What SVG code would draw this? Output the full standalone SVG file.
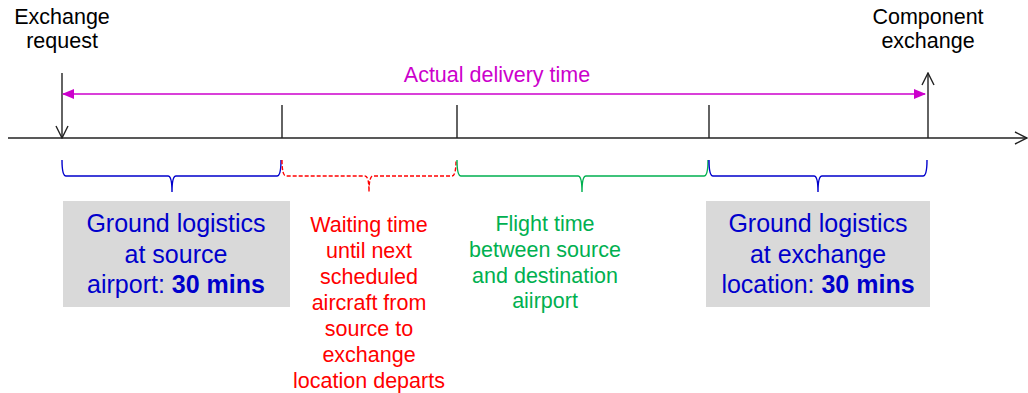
<svg xmlns="http://www.w3.org/2000/svg" width="1028" height="393" viewBox="0 0 1028 393">
<style>
text{font-family:"Liberation Sans",Arial,sans-serif;text-anchor:middle}
.lbl{font-size:21.5px;fill:#000}
.blue{font-size:25px;fill:#0000CC}
.red{font-size:21.5px;fill:#FF0000}
.green{font-size:21.5px;fill:#00B050}
.mag{font-size:21.5px;fill:#CC00CC}
.box{fill:#D9D9D9}
.ax{stroke:#222;stroke-width:1.4;fill:none}
.brace{fill:none;stroke-width:1.4}
b{font-weight:bold}
</style>
<defs>
<marker id="open" viewBox="0 0 14 14" refX="13" refY="7" markerWidth="14" markerHeight="14" markerUnits="userSpaceOnUse" orient="auto">
<path d="M1,1 L13,7 L1,13" fill="none" stroke="#222" stroke-width="1.4"/>
</marker>
<marker id="tri" viewBox="0 0 12 12" refX="11" refY="6" markerWidth="12" markerHeight="12" markerUnits="userSpaceOnUse" orient="auto-start-reverse">
<path d="M0,1 L12,6 L0,11 Z" fill="#CC00CC"/>
</marker>
</defs>
<g id="connectors">
<line class="ax" x1="8" y1="138" x2="1027" y2="138" marker-end="url(#open)"/>
<line class="ax" x1="62" y1="73" x2="62" y2="138" marker-end="url(#open)"/>
<line class="ax" x1="928" y1="138" x2="928" y2="73" marker-end="url(#open)"/>
<line class="ax" x1="282" y1="105" x2="282" y2="138"/>
<line class="ax" x1="457" y1="105" x2="457" y2="138"/>
<line class="ax" x1="709" y1="105" x2="709" y2="138"/>
<line x1="63" y1="94" x2="925" y2="94" stroke="#CC00CC" stroke-width="1.6" marker-start="url(#tri)" marker-end="url(#tri)"/>
<path class="brace" stroke="#0000CC" d="M62,160 Q62,176 66,176 L168,176 Q172,176 172,192 Q172,176 176,176 L277,176 Q281,176 281,160"/>
<path class="brace" stroke="#FF0000" stroke-dasharray="4,2" d="M282,160 Q282,176 286,176 L365,176 Q369,176 369,192 Q369,176 373,176 L452,176 Q456,176 456,160"/>
<path class="brace" stroke="#00B050" d="M457,160 Q457,176 461,176 L578,176 Q582,176 582,192 Q582,176 586,176 L704,176 Q708,176 708,160"/>
<path class="brace" stroke="#0000CC" d="M709,160 Q709,176 713,176 L814,176 Q818,176 818,192 Q818,176 822,176 L923,176 Q927,176 927,160"/>
</g>
<g id="exchange-request">
<text class="lbl" x="62" y="24">Exchange</text>
<text class="lbl" x="62" y="48">request</text>
</g>
<g id="component-exchange">
<text class="lbl" x="928" y="24">Component</text>
<text class="lbl" x="928" y="48">exchange</text>
</g>
<g id="actual-delivery">
<text class="mag" x="497" y="82">Actual delivery time</text>
</g>
<g id="ground-source">
<rect class="box" x="63" y="201" width="227" height="106"/>
<text class="blue" x="176" y="232">Ground logistics</text>
<text class="blue" x="176" y="263">at source</text>
<text class="blue" x="176" y="293">airport: <tspan font-weight="bold">30 mins</tspan></text>
</g>
<g id="waiting-time">
<text class="red" x="369" y="232">Waiting time</text>
<text class="red" x="369" y="258">until next</text>
<text class="red" x="369" y="284">scheduled</text>
<text class="red" x="369" y="310">aircraft from</text>
<text class="red" x="369" y="336">source to</text>
<text class="red" x="369" y="362">exchange</text>
<text class="red" x="369" y="388">location departs</text>
</g>
<g id="flight-time">
<text class="green" x="545" y="231">Flight time</text>
<text class="green" x="545" y="257">between source</text>
<text class="green" x="545" y="283">and destination</text>
<text class="green" x="545" y="308">aiirport</text>
</g>
<g id="ground-exchange">
<rect class="box" x="706" y="201" width="224" height="106"/>
<text class="blue" x="818" y="232">Ground logistics</text>
<text class="blue" x="818" y="263">at exchange</text>
<text class="blue" x="818" y="293">location: <tspan font-weight="bold">30 mins</tspan></text>
</g>
</svg>
